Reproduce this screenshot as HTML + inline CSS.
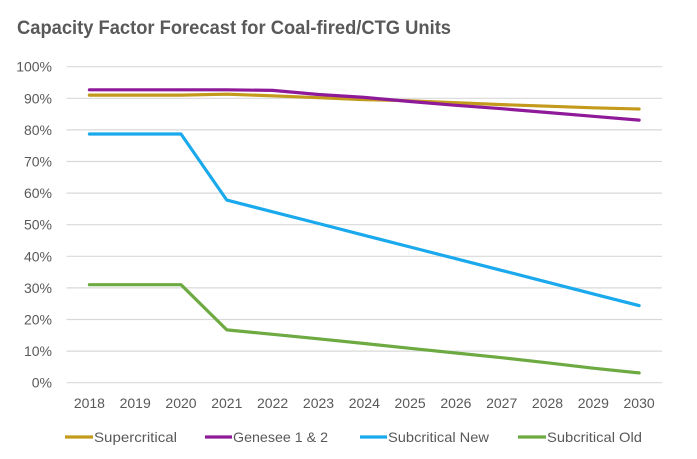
<!DOCTYPE html>
<html><head><meta charset="utf-8"><style>
html,body{margin:0;padding:0;background:#fff;}
svg{display:block;font-family:"Liberation Sans",Arial,sans-serif;}
</style></head><body>
<svg width="697" height="459" viewBox="0 0 697 459" xmlns="http://www.w3.org/2000/svg">
<rect width="697" height="459" fill="#fff"/>
<text x="17" y="34" font-size="19" font-weight="bold" fill="#595959" textLength="434" lengthAdjust="spacingAndGlyphs">Capacity Factor Forecast for Coal-fired/CTG Units</text>
<g stroke="#d9d9d9" stroke-width="1.2">
<line x1="66.5" y1="66.7" x2="662" y2="66.7"/>
<line x1="66.5" y1="98.3" x2="662" y2="98.3"/>
<line x1="66.5" y1="129.9" x2="662" y2="129.9"/>
<line x1="66.5" y1="161.5" x2="662" y2="161.5"/>
<line x1="66.5" y1="193.1" x2="662" y2="193.1"/>
<line x1="66.5" y1="224.7" x2="662" y2="224.7"/>
<line x1="66.5" y1="256.3" x2="662" y2="256.3"/>
<line x1="66.5" y1="287.9" x2="662" y2="287.9"/>
<line x1="66.5" y1="319.5" x2="662" y2="319.5"/>
<line x1="66.5" y1="351.1" x2="662" y2="351.1"/>
<line x1="66.5" y1="382.7" x2="662" y2="382.7"/>
</g>
<g font-size="14" fill="#595959" text-anchor="end">
<text x="52" y="71.7">100%</text>
<text x="52" y="103.3">90%</text>
<text x="52" y="134.9">80%</text>
<text x="52" y="166.5">70%</text>
<text x="52" y="198.1">60%</text>
<text x="52" y="229.7">50%</text>
<text x="52" y="261.3">40%</text>
<text x="52" y="292.9">30%</text>
<text x="52" y="324.5">20%</text>
<text x="52" y="356.1">10%</text>
<text x="52" y="387.7">0%</text>
</g>
<g font-size="14" fill="#595959" text-anchor="middle">
<text x="89.4" y="408">2018</text>
<text x="135.2" y="408">2019</text>
<text x="181.0" y="408">2020</text>
<text x="226.8" y="408">2021</text>
<text x="272.6" y="408">2022</text>
<text x="318.5" y="408">2023</text>
<text x="364.3" y="408">2024</text>
<text x="410.1" y="408">2025</text>
<text x="455.9" y="408">2026</text>
<text x="501.7" y="408">2027</text>
<text x="547.5" y="408">2028</text>
<text x="593.3" y="408">2029</text>
<text x="639.1" y="408">2030</text>
</g>
<g fill="none" stroke-width="3.2" stroke-linejoin="round" stroke-linecap="round">
<polyline stroke="#C49A1C" points="89.4,95.1 135.2,95.1 181.0,95.1 226.8,94.2 272.6,95.8 318.5,97.7 364.3,99.6 410.1,100.8 455.9,102.7 501.7,104.6 547.5,106.2 593.3,107.8 639.1,109.0"/>
<polyline stroke="#8E1A99" points="89.4,89.8 135.2,89.8 181.0,89.8 226.8,89.8 272.6,90.4 318.5,94.5 364.3,97.4 410.1,101.5 455.9,105.3 501.7,108.7 547.5,112.5 593.3,116.3 639.1,120.1"/>
<polyline stroke="#1AA9EC" points="89.4,134.0 135.2,134.0 181.0,134.0 226.8,200.1 272.6,211.8 318.5,223.5 364.3,235.3 410.1,247.0 455.9,258.7 501.7,270.4 547.5,282.2 593.3,293.9 639.1,305.6"/>
<polyline stroke="#6EAA42" points="89.4,284.7 135.2,284.7 181.0,284.7 226.8,329.9 272.6,334.3 318.5,338.8 364.3,343.5 410.1,348.3 455.9,353.0 501.7,357.7 547.5,362.8 593.3,368.2 639.1,372.9"/>
</g>
<g stroke-width="3.2">
<line x1="65" y1="437" x2="93" y2="437" stroke="#C49A1C"/>
<line x1="205" y1="437" x2="232" y2="437" stroke="#8E1A99"/>
<line x1="360" y1="437" x2="387" y2="437" stroke="#1AA9EC"/>
<line x1="518" y1="437" x2="546" y2="437" stroke="#6EAA42"/>
</g>
<g font-size="14" fill="#595959">
<text x="94" y="442" textLength="83" lengthAdjust="spacingAndGlyphs">Supercritical</text>
<text x="233" y="442" textLength="95" lengthAdjust="spacingAndGlyphs">Genesee 1 &amp; 2</text>
<text x="388" y="442" textLength="101" lengthAdjust="spacingAndGlyphs">Subcritical New</text>
<text x="547" y="442" textLength="95" lengthAdjust="spacingAndGlyphs">Subcritical Old</text>
</g>
</svg>
</body></html>
